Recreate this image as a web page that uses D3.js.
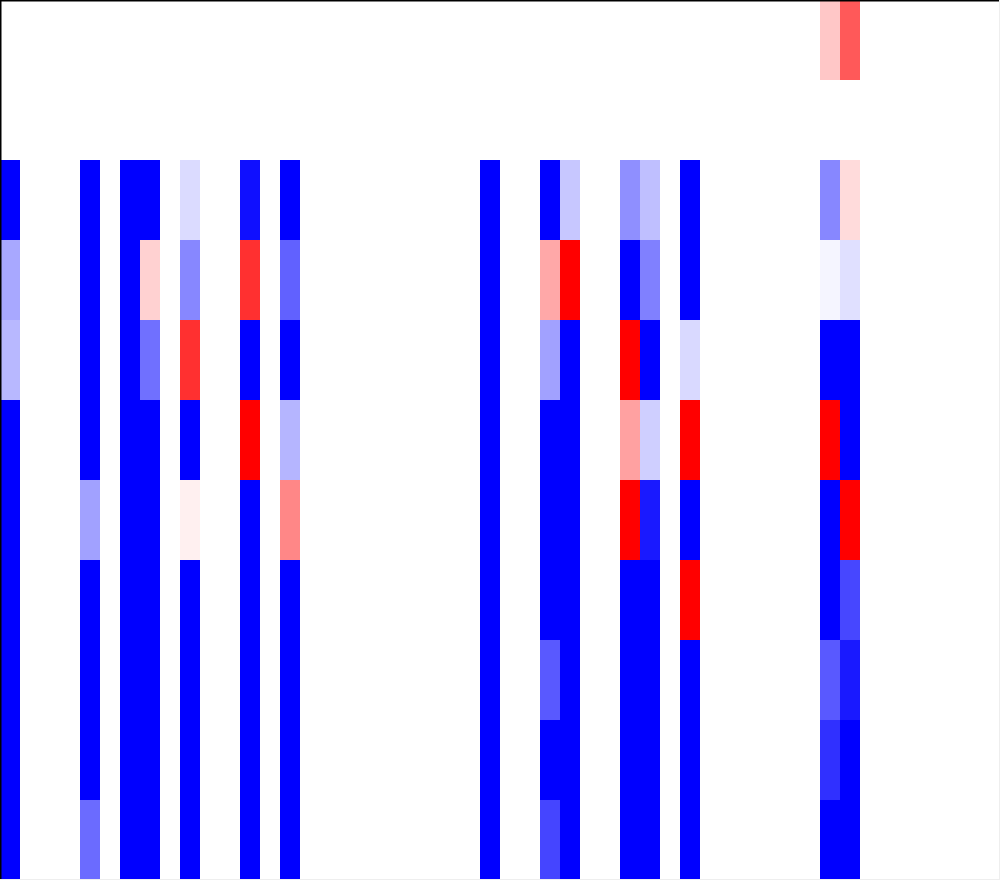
<!DOCTYPE html>
<html>
<head>
<meta charset="utf-8">
<script src="https://cdn.jsdelivr.net/npm/d3@7"></script>
<style>
  body { margin: 0; background: #fff; }
  svg { display: block; }
</style>
</head>
<body>
<script>
// heatmap: 11 rows x 50 columns, values in [-1, 1], blue-white-red

var r0  = [0,0,0,0,0,0,0,0,0,0,  0,0,0,0,0,0,0,0,0,0,  0,0,0,0,0,0,0,0,0,0,  0,0,0,0,0,0,0,0,0,0,  0,0.22,0.65,0,0,0,0,0,0,0];
var r1  = [0,0,0,0,0,0,0,0,0,0,  0,0,0,0,0,0,0,0,0,0,  0,0,0,0,0,0,0,0,0,0,  0,0,0,0,0,0,0,0,0,0,  0,0,0,0,0,0,0,0,0,0];
var r2  = [-1,0,0,0,-1,0,-1,-1,0,-0.14,  0,0,-0.94,0,-1,0,0,0,0,0,  0,0,0,0,-1,0,0,-1,-0.22,0,  0,-0.44,-0.25,0,-1,0,0,0,0,0,  0,-0.47,0.14,0,0,0,0,0,0,0];
var r3  = [-0.34,0,0,0,-1,0,-1,0.18,0,-0.47,  0,0,0.81,0,-0.62,0,0,0,0,0,  0,0,0,0,-1,0,0,0.34,1,0,  0,-1,-0.5,0,-1,0,0,0,0,0,  0,-0.04,-0.12,0,0,0,0,0,0,0];
var r4  = [-0.28,0,0,0,-1,0,-1,-0.56,0,0.81,  0,0,-1,0,-1,0,0,0,0,0,  0,0,0,0,-1,0,0,-0.37,-1,0,  0,1,-1,0,-0.15,0,0,0,0,0,  0,-1,-1,0,0,0,0,0,0,0];
var r5  = [-1,0,0,0,-1,0,-1,-1,0,-1,  0,0,1,0,-0.29,0,0,0,0,0,  0,0,0,0,-1,0,0,-1,-1,0,  0,0.37,-0.19,0,1,0,0,0,0,0,  0,1,-1,0,0,0,0,0,0,0];
var r6  = [-1,0,0,0,-0.37,0,-1,-1,0,0.06,  0,0,-1,0,0.47,0,0,0,0,0,  0,0,0,0,-1,0,0,-1,-1,0,  0,1,-0.9,0,-1,0,0,0,0,0,  0,-1,1,0,0,0,0,0,0,0];
var r7  = [-1,0,0,0,-1,0,-1,-1,0,-1,  0,0,-1,0,-1,0,0,0,0,0,  0,0,0,0,-1,0,0,-1,-1,0,  0,-1,-1,0,1,0,0,0,0,0,  0,-1,-0.72,0,0,0,0,0,0,0];
var r8  = [-1,0,0,0,-1,0,-1,-1,0,-1,  0,0,-1,0,-1,0,0,0,0,0,  0,0,0,0,-1,0,0,-0.65,-1,0,  0,-1,-1,0,-1,0,0,0,0,0,  0,-0.65,-0.9,0,0,0,0,0,0,0];
var r9  = [-1,0,0,0,-1,0,-1,-1,0,-1,  0,0,-1,0,-1,0,0,0,0,0,  0,0,0,0,-1,0,0,-1,-1,0,  0,-1,-1,0,-1,0,0,0,0,0,  0,-0.81,-1,0,0,0,0,0,0,0];
var r10 = [-1,0,0,0,-0.58,0,-1,-1,0,-1,  0,0,-1,0,-1,0,0,0,0,0,  0,0,0,0,-1,0,0,-0.73,-1,0,  0,-1,-1,0,-1,0,0,0,0,0,  0,-1,-1,0,0,0,0,0,0,0];

var rows = [r0, r1, r2, r3, r4, r5, r6, r7, r8, r9, r10];

var width = 1000;
var height = 880;

var svg = d3.select("body")
    .append("svg")
    .attr("width", width)
    .attr("height", height);

var xScale = d3.scaleBand()
    .domain(d3.range(r0.length))
    .range([0, width]);

var yScale = d3.scaleBand()
    .domain(d3.range(rows.length))
    .range([0, height]);

var color = d3.scaleLinear()
    .domain([-1, 0, 1])
    .range(["#0000ff", "#ffffff", "#ff0000"])
    .clamp(true);

var cells = [];
rows.forEach(function (row, i) {
    row.forEach(function (v, j) {
        cells.push({ row: i, col: j, value: v });
    });
});

svg.append("g")
    .attr("class", "cells")
    .attr("shape-rendering", "crispEdges")
    .selectAll("rect")
    .data(cells)
    .enter()
    .append("rect")
    .attr("x", function (d) { return xScale(d.col); })
    .attr("y", function (d) { return yScale(d.row); })
    .attr("width", xScale.bandwidth())
    .attr("height", yScale.bandwidth())
    .attr("fill", function (d) { return color(d.value); });

// frame: dark top/left, faint right/bottom
var frame = svg.append("g").attr("class", "frame");
frame.append("line")
    .attr("x1", 0).attr("x2", width).attr("y1", 0.75).attr("y2", 0.75)
    .attr("stroke", "#000").attr("stroke-width", 1.5);
frame.append("line")
    .attr("x1", 0.75).attr("x2", 0.75).attr("y1", 0).attr("y2", height)
    .attr("stroke", "#000").attr("stroke-width", 1.5);
frame.append("line")
    .attr("x1", width - 0.5).attr("x2", width - 0.5).attr("y1", 0).attr("y2", height)
    .attr("stroke", "#eeeeee").attr("stroke-width", 1);
frame.append("line")
    .attr("x1", 0).attr("x2", width).attr("y1", height - 0.5).attr("y2", height - 0.5)
    .attr("stroke", "#eeeeee").attr("stroke-width", 1);
</script>
</body>
</html>
